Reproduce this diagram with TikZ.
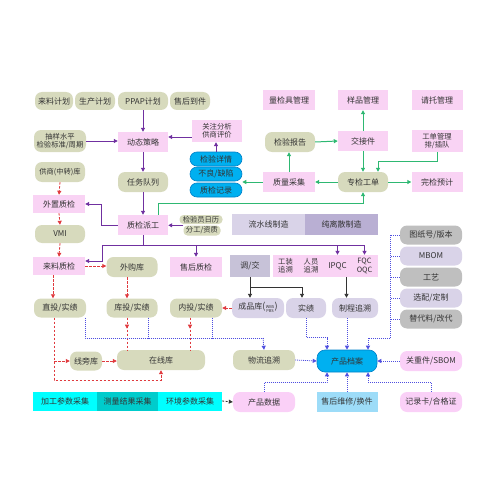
\documentclass[tikz,border=0pt]{standalone}
\usepackage{fontspec}
\newfontfamily\cjk{Noto Sans CJK SC}
\usetikzlibrary{arrows.meta}
\definecolor{txtc}{HTML}{333333}
\definecolor{olc}{HTML}{D7DABD}
\definecolor{pkc}{HTML}{F9D3F4}
\definecolor{pkc2}{HTML}{FAD0F7}
\definecolor{blc}{HTML}{00B0F0}
\definecolor{bld}{HTML}{0080C8}
\definecolor{lvc}{HTML}{D9D3E8}
\definecolor{lvd}{HTML}{B9AFD3}
\definecolor{tjc}{HTML}{C7C2D8}
\definecolor{grc}{HTML}{BFBFBF}
\definecolor{cyc}{HTML}{00FFFF}
\definecolor{tlc}{HTML}{00CCCC}
\definecolor{lbc}{HTML}{9DDCF8}
\definecolor{purc}{HTML}{7030A0}
\definecolor{grnc}{HTML}{2EB872}
\definecolor{redc}{HTML}{E03A3E}
\definecolor{bluc}{HTML}{4F4FE0}
\begin{document}
\begin{tikzpicture}[x=1pt,y=-1pt,
  box/.style={inner sep=0pt, align=center, text=txtc, font=\cjk\fontsize{8}{9}\selectfont},
  small/.style={font=\cjk\fontsize{7.3}{8.3}\selectfont},
  wh/.style 2 args={minimum width=#1pt, minimum height=#2pt},
  ol/.style={box, fill=olc, rounded corners=7pt},
  pk/.style={box, fill=pkc},
  pkr/.style={box, fill=pkc2, rounded corners=7pt},
  bl/.style={box, fill=blc, draw=bld, line width=0.6pt, rounded corners=7pt},
  lv/.style={box, fill=lvc, rounded corners=7pt},
  gr/.style={box, fill=grc, rounded corners=7pt},
  tipa/.style={-{Triangle[length=4pt,width=4pt]}},
  pl/.style={draw=purc, line width=1pt},
  pa/.style={pl, tipa},
  gl/.style={draw=grnc, line width=1pt},
  ga/.style={gl, tipa},
  rl/.style={draw=redc, line width=0.8pt, dash pattern=on 2.5pt off 1.5pt},
  ra/.style={rl, tipa},
  bdl/.style={draw=bluc, line width=0.8pt, dash pattern=on 1pt off 1pt},
  bda/.style={bdl, tipa},
  ka/.style={draw=black!80, line width=0.9pt, tipa},
  kd/.style={draw=black!80, line width=0.8pt, dash pattern=on 2pt off 1.5pt, tipa}
]
\useasboundingbox (0,0) rectangle (500,500);

% row 1
\node[ol, wh={38}{18}] (jh1) at (54,101) {来料计划};
\node[ol, wh={40}{18}] (jh2) at (95,101) {生产计划};
\node[ol, wh={50}{18}] (jh3) at (143,101) {PPAP计划};
\node[ol, wh={40}{18}] (jh4) at (190,101) {售后到件};
\node[pk, wh={52}{20}] (lj) at (289,100) {量检具管理};
\node[pk, wh={50}{20}] (yp) at (363,100) {样品管理};
\node[pk, wh={51}{20}] (qt) at (437,100) {请托管理};

% row 2
\node[ol, small, wh={52}{22}] (cy) at (60,141) {抽样水平\\检验标准/周期};
\node[pk, wh={50}{20}] (dt) at (143,142) {动态策略};
\node[pk, small, wh={50}{22}] (gz) at (217,131) {关注分析\\供商评价};
\node[ol, wh={50}{20}] (bg) at (290,142) {检验报告};
\node[pk, wh={50}{20}] (jj) at (363,141) {交接件};
\node[pk, small, wh={51}{22}] (gd) at (437,141) {工单管理\\排/插队};

% blue stack
\node[bl, wh={52}{14}] (b1) at (216,159) {检验详情};
\node[bl, wh={52}{14}] (b2) at (216,174) {不良/缺陷};
\node[bl, wh={52}{14}] (b3) at (216,190) {质检记录};

% row 3
\node[ol, small, wh={50}{20}] (gs) at (60,172) {供商(中转)库};
\node[ol, wh={50}{20}] (rw) at (143,182) {任务队列};
\node[pk, wh={52}{20}] (zl) at (289,182) {质量采集};
\node[ol, wh={50}{20}] (zj) at (363,182) {专检工单};
\node[pk, wh={51}{20}] (wj) at (437,182) {完检预计};

\node[pk, wh={52}{18}] (wz) at (59,204) {外置质检};
\node[pk, wh={50}{20}] (pg) at (143,225) {质检派工};
\node[ol, small, wh={43}{9}, rounded corners=4pt] (jy1) at (201,219.5) {检验员日历};
\node[ol, small, wh={37}{10}, rounded corners=4pt] (jy2) at (202,230.5) {分工/资质};
\node[box, fill=lvc, wh={73}{21}] (ls) at (268.5,224.5) {流水线制造};
\node[box, fill=lvd, wh={73}{21}] (cl) at (341.5,224.5) {纯离散制造};
\node[ol, wh={50}{18}] (vmi) at (60,234) {VMI};

% right column
\node[gr, wh={62}{19}] (tz) at (431,235) {图纸号/版本};
\node[lv, wh={62}{19}] (mb) at (431,256) {MBOM};
\node[gr, wh={62}{19}] (gy) at (431,277) {工艺};
\node[lv, wh={62}{19}] (xp) at (431,298) {选配/定制};
\node[gr, wh={62}{19}] (td) at (431,319) {替代料/改代};

% row 4
\node[pk, wh={52}{18}] (ll) at (59,266) {来料质检};
\node[ol, wh={51}{20}] (wg) at (132,267) {外购库};
\node[pk, wh={52}{20}] (sh) at (196,267) {售后质检};
\node[box, fill=tjc, wh={40}{22}] (tj) at (250,266) {调/交};
\node[pk, small, wh={25}{22}] (gzz) at (285.5,266) {工装\\追溯};
\node[pk, small, wh={26}{22}] (ry) at (311,266) {人员\\追溯};
\node[pk, wh={27}{22}] (ip) at (337.5,266) {IPQC};
\node[pk, small, wh={27}{22}] (fq) at (364.5,266) {FQC\\OQC};

% row 5
\node[ol, wh={52}{19}] (zt) at (60,308) {直投/实绩};
\node[ol, wh={51}{19}] (kt) at (132,308) {库投/实绩};
\node[ol, wh={52}{19}] (nt) at (196,308) {内投/实绩};
\node[lv, wh={52}{20}] (cp) at (258,308) {成品库{\fontsize{9}{9}\selectfont(\kern0.3pt}\raisebox{-1pt}{\fontsize{4}{5}\selectfont\begin{tabular}{@{}c@{}}WBS\\[-1.2pt]PBS\end{tabular}}{\fontsize{9}{9}\selectfont\kern0.3pt)}};
\node[lv, wh={40}{20}] (sj) at (306,308) {实绩};
\node[lv, wh={46}{20}] (zc) at (355,308) {制程追溯};

% row 6
\node[ol, wh={32}{19}] (xb) at (86,361) {线旁库};
\node[ol, wh={88}{20}] (zx) at (161,360) {在线库};
\node[ol, wh={62}{20}] (wl) at (264,360) {物流追溯};
\node[bl, wh={60}{22}, rounded corners=8pt] (da) at (347,361) {产品档案};
\node[pkr, wh={62}{20}] (gzj) at (431,361) {关重件/SBOM};

% row 7
\node[box, fill=cyc, wh={64}{19}] (c1) at (65,401) {加工参数采集};
\node[box, fill=tlc, wh={61}{19}] (c2) at (127.5,401) {测量结果采集};
\node[box, fill=cyc, wh={64}{19}] (c3) at (190,401) {环境参数采集};
\node[pkr, wh={62}{20}] (sjd) at (264,402) {产品数据};
\node[box, fill=lbc, wh={61}{20}] (wx) at (347,402) {售后维修/换件};
\node[pkr, wh={62}{20}] (jl) at (431,402) {记录卡/合格证};

% purple
\draw[pa] (jh3.south) -- (dt.north);
\draw[pa] (cy.east) -- (cy.east -| dt.west);
\draw[pa] ([yshift=-6pt]gz.west) -- ([yshift=-6pt]gz.west -| dt.east);
\draw[pa] (b1.north) -- (b1.north |- gz.south);
\draw[pa] (dt.south) -- (rw.north);
\draw[pa] (rw.south) -- (pg.north);
\draw[pa] (pg.west) -| ([xshift=16pt]wz.east) -- (wz.east);
\draw[pa] (jy2.north west) -- (jy2.north west -| pg.east);
\coordinate (h) at (143,245);
\draw[pl] (pg.south) -- (h);
\draw[pl] (h -| 102,0) -- (h -| fq.north);
\draw[pa] (h -| 102,0) |- ([yshift=5pt]ll.east);
\draw[pa] (h -| sh.north) -- (sh.north);
\draw[pa] (h -| ip.north) -- (ip.north);
\draw[pa] (h -| fq.north) -- (fq.north);

% green
\draw[ga] (jj.north) -- (yp.south);
\draw[ga] (jj.south) -- (zj.north);
\draw[ga] (bg.east) -- (jj.west);
\draw[ga] (gd.south) |- ([xshift=15pt,yshift=10pt]zj.north) -- ([xshift=15pt]zj.north);
\draw[ga] (zj.east) -- (wj.west);
\draw[ga] (zj.west) -- (zl.east);
\draw[ga] (zl.north) -- (zl.north |- bg.south);
\draw[ga] (zl.west) -- (zl.west -| b3.east);
\draw[ga] ([xshift=-10pt]pg.north east) |- ([yshift=-11pt]zj.south) -- (zj.south);

% red dashed
\draw[ra] (gs.south) -- (wz.north);
\draw[ra] (wz.south) -- (vmi.north);
\draw[ra] (vmi.south) -- (ll.north);
\draw[ra] (ll.east) -- (ll.east -| wg.west);
\draw[ra] ([xshift=-6pt]ll.south) -- ([xshift=-6pt]ll.south |- zt.north);
\draw[ra] ([xshift=-5pt]wg.south) -- ([xshift=-5pt]wg.south |- kt.north);
\draw[ra] (cp.west) -- (nt.east);
\draw[ra] ([xshift=-6pt]zt.south) |- ([yshift=-10pt]zx.south) -- (zx.south);
\draw[ra] ([xshift=-6pt]zt.south |- xb.west) -- (xb.west);
\draw[ra] (xb.east) -- (xb.east -| zx.west);
\draw[rl] ([xshift=-5pt]kt.south) -- ([xshift=-5pt]kt.south |- zx.north);
\draw[ra] ([xshift=-5pt]kt.south) -- ++(0,11);
\draw[rl] ([xshift=-6pt]nt.south) -- ([xshift=-6pt]nt.south |- zx.north);
\draw[ra] ([xshift=-6pt]nt.south) -- ++(0,11);

% black
\draw[ka] (tj.south) -- (tj.south |- cp.north);
\draw[ka] (tj.south |- 0,287) -| ([xshift=-4pt]sj.north);
\draw[ka] ([xshift=9pt]ip.south) -- ([xshift=9pt]ip.south |- zc.north);
\draw[kd] (c3.east) -- (sjd.west);

% blue dotted
\coordinate (lb) at (263,338);
\draw[bdl] ([xshift=25pt]zt.south) |- (lb);
\draw[bdl] ([xshift=16pt]kt.south) -- ([xshift=16pt]kt.south |- lb);
\draw[bdl] ([xshift=16pt]nt.south) -- ([xshift=16pt]nt.south |- lb);
\draw[bda] (lb) -- (wl.north);
\draw[bda] (sj.south) |- ([xshift=-20pt,yshift=12pt]da.north) -- ([xshift=-20pt]da.north);
\draw[bda] ([xshift=-8pt]zc.south) -- ([xshift=-8pt]zc.south |- da.north);
\coordinate (br) at (390,338);
\draw[bdl] (tz.west) -| (br);
\draw[bdl] (mb.west) -- (mb.west -| br);
\draw[bdl] (gy.west) -- (gy.west -| br);
\draw[bdl] (xp.west) -- (xp.west -| br);
\draw[bdl] (td.west) -- (td.west -| br);
\draw[bda] (br) -| ([xshift=21pt]da.north);
\draw[bda] (wl.east) -- (da.west);
\draw[bda] (gzj.west) -- (da.east);
\draw[bda] (jl.north) |- ([xshift=21pt,yshift=-10pt]da.south) -- ([xshift=21pt]da.south);
\draw[bda] (wx.north) -- (da.south);
\draw[bda] (sjd.north) |- ([xshift=-20pt,yshift=-10pt]da.south) -- ([xshift=-20pt]da.south);
\end{tikzpicture}
\end{document}
